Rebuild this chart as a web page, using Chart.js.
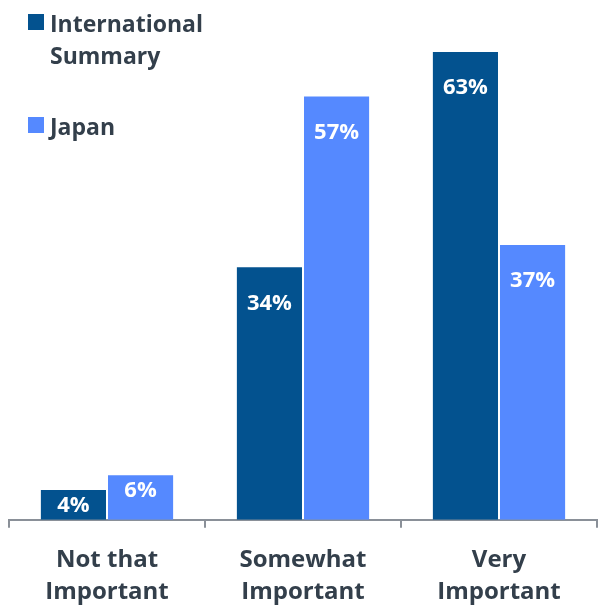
<!DOCTYPE html>
<html>
<head>
<meta charset="utf-8">
<script src="https://cdn.jsdelivr.net/npm/chart.js@4"></script>
<style>
  html, body { margin: 0; padding: 0; background: #fff; }
  #wrap { width: 598px; height: 607px; }
</style>
</head>
<body>
<div id="wrap"><canvas id="importanceChart"></canvas></div>
<script>
const categories = [["Not that", "Important"], ["Somewhat", "Important"], ["Very", "Important"]];
const seriesNames = [["International", "Summary"], ["Japan"]];
const internationalValues = [4, 34, 63];
const japanValues = [6, 57, 37];

const darkBlue = "#03528f";
const lightBlue = "#5589ff";
const textColor = "#333f4b";
const fontFamily = "'Open Sans', 'DejaVu Sans', sans-serif";

// white percentage labels inside the top of each bar
const valueLabels = {
  id: "valueLabels",
  afterDatasetsDraw(chart) {
    const ctx = chart.ctx;
    ctx.save();
    ctx.fillStyle = "#fff";
    ctx.font = "bold 22px " + fontFamily;
    ctx.textAlign = "center";
    ctx.textBaseline = "middle";
    chart.data.datasets.forEach(function (ds, i) {
      chart.getDatasetMeta(i).data.forEach(function (bar, j) {
        const h = bar.base - bar.y;
        const offset = h < 60 ? 16 : 36;
        ctx.fillText(ds.data[j] + "%", bar.x, bar.y + offset);
      });
    });
    ctx.restore();
  },
};

// legend stacked in the top-left corner
const cornerLegend = {
  id: "cornerLegend",
  afterDraw(chart) {
    const ctx = chart.ctx;
    const rows = [14, 117];
    ctx.save();
    ctx.font = "bold 23px " + fontFamily;
    ctx.textBaseline = "alphabetic";
    ctx.textAlign = "left";
    chart.data.datasets.forEach(function (ds, i) {
      const top = rows[i];
      ctx.fillStyle = ds.backgroundColor;
      ctx.fillRect(28, top, 16, 16);
      ctx.fillStyle = textColor;
      seriesNames[i].forEach(function (line, k) {
        ctx.fillText(line, 50, top + 18 + k * 32);
      });
    });
    ctx.restore();
  },
};

const config = {
  type: "bar",
  data: {
    labels: categories,
    datasets: [
      {
        label: seriesNames[0].join(" "),
        data: internationalValues,
        backgroundColor: darkBlue,
      },
      {
        label: seriesNames[1].join(" "),
        data: japanValues,
        backgroundColor: lightBlue,
      },
    ],
  },
  options: {
    responsive: true,
    maintainAspectRatio: false,
    animation: false,
    categoryPercentage: 0.685,
    barPercentage: 0.97,
    layout: { padding: { left: 9, right: 1, top: 0, bottom: -17 } },
    plugins: {
      legend: { display: false },
      tooltip: { enabled: false },
    },
    scales: {
      x: {
        grid: {
          offset: true,
          drawOnChartArea: false,
          drawTicks: true,
          tickLength: 8,
          color: "#8a9098",
          lineWidth: 2,
        },
        border: { color: "#8a9098", width: 2 },
        ticks: {
          color: textColor,
          padding: 16,
          maxRotation: 0,
          font: { family: fontFamily, size: 24, weight: "bold", lineHeight: 1.34 },
        },
      },
      y: {
        display: false,
        min: 0,
        max: 70,
      },
    },
  },
  plugins: [valueLabels, cornerLegend],
};

const importanceChart = new Chart(document.getElementById("importanceChart"), config);
</script>
</body>
</html>
